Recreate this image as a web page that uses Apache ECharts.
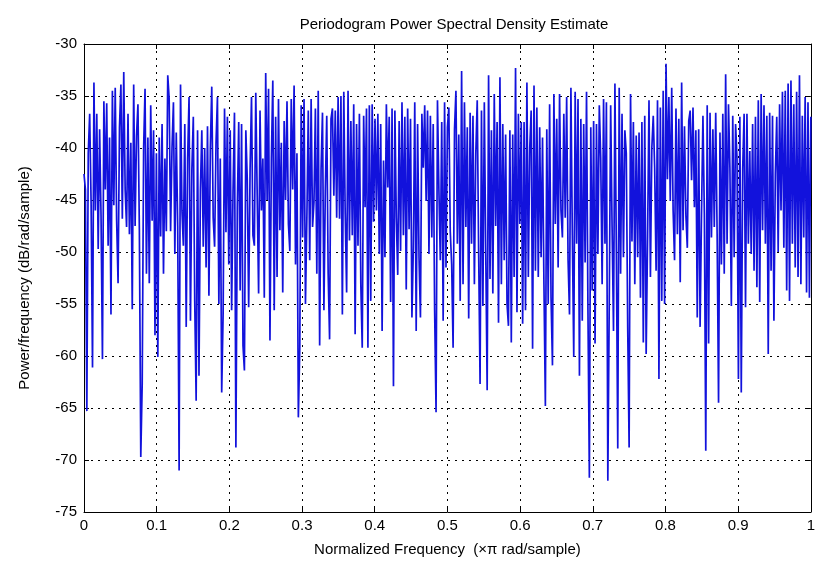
<!DOCTYPE html>
<html>
<head>
<meta charset="utf-8">
<script src="https://cdn.jsdelivr.net/npm/echarts@6/dist/echarts.min.js"></script>
<style>html,body{margin:0;padding:0;background:#fff;}#c{width:818px;height:563px;}</style>
</head>
<body>
<div id="c"></div>
<script>
// PSD values (dB/rad/sample), 513 evenly spaced bins from 0 to 1 (xπ rad/sample), read in six segments
const psdA = [-42.5,-44.0,-65.3,-40.5,-36.7,-45.2,-61.1,-33.7,-46.0,-36.7,
-49.7,-38.2,-46.5,-60.3,-35.5,-44.0,-35.7,-49.4,-39.0,-56.0,
-34.5,-45.5,-34.2,-47.0,-53.0,-38.0,-33.9,-46.8,-32.7,-44.0,
-47.6,-36.7,-48.3,-39.5,-55.5,-33.9,-47.5,-38.8,-35.8,-47.8,
-69.7,-62.7,-40.0,-34.3,-52.1,-39.0,-53.0,-35.9,-47.0,-38.3,
-58.0,-40.5,-60.1,-39.0,-48.5,-37.7,-52.1,-41.0,-48.0,-33.0,
-35.3,-48.0,-40.0,-35.6,-50.2,-38.5,-47.5,-71.0,-33.9,-46.0,
-49.4,-37.7,-57.2,-41.0,-35.1,-56.6,-42.0,-37.0,-54.7,-64.3,
-38.3,-61.9,-44.0,-38.3,-49.5,-40.0];
const psdB = [-51.5,-37.9,-54.2,-40.0,-34.1,-46.7,-49.5,-39.5,-35.1,-55.0,
-41.0,-63.5,-56.0,-36.2,-48.1,-37.0,-51.2,-38.3,-55.6,-44.0,
-36.6,-68.8,-45.7,-37.5,-53.7,-37.7,-59.0,-61.4,-38.3,-43.0,
-55.3,-42.0,-35.1,-48.4,-49.4,-34.7,-44.5,-54.0,-36.4,-46.0,
-41.0,-54.4,-32.8,-45.0,-34.3,-58.5,-41.0,-33.5,-55.6,-37.0,
-52.4,-35.3,-47.9,-39.5,-53.9,-37.4,-45.0,-35.5,-47.3,-49.9,
-35.3,-44.0,-34.0,-51.2,-40.5,-65.9,-59.2,-35.9,-48.6,-35.3,
-55.0,-46.7,-36.4,-50.8,-35.3,-47.6,-45.2,-36.2,-52.1,-34.5,
-59.0,-42.0,-36.6,-55.6,-44.0];
const psdC = [-36.9,-52.1,-58.4,-37.2,-36.2,-44.6,-36.4,-46.7,-35.1,-46.8,
-35.0,-56.0,-34.6,-46.3,-53.9,-34.5,-48.9,-37.4,-48.4,-35.8,
-57.9,-37.7,-49.4,-36.7,-53.1,-59.2,-36.9,-45.7,-36.2,-59.2,
-35.9,-54.7,-35.8,-47.1,-37.2,-46.0,-36.7,-50.2,-37.7,-57.6,
-41.2,-50.5,-35.8,-43.8,-37.0,-54.8,-36.2,-62.9,-36.4,-46.7,
-52.2,-37.4,-49.9,-35.6,-48.4,-37.0,-53.6,-36.2,-47.8,-37.2,
-56.3,-49.6,-35.6,-57.6,-37.7,-50.5,-56.3,-36.7,-41.9,-35.9,
-45.1,-36.4,-50.2,-36.9,-48.6,-37.7,-55.6,-65.4,-35.4,-44.0,
-50.8,-37.5,-56.6,-35.6,-51.5,-38.0];
const psdD = [-36.1,-48.0,-51.2,-59.2,-38.2,-34.5,-49.2,-38.7,-54.7,-32.6,
-53.1,-35.6,-47.6,-38.0,-56.4,-36.6,-49.2,-36.9,-53.1,-40.5,
-35.4,-49.9,-62.7,-36.4,-55.2,-35.6,-49.9,-63.3,-33.0,-52.6,
-38.3,-54.0,-34.8,-47.5,-37.5,-56.8,-33.2,-53.1,-37.7,-50.8,
-38.7,-55.0,-57.1,-38.3,-58.7,-38.7,-52.4,-32.3,-55.8,-36.7,
-47.3,-37.5,-56.9,-37.5,-55.6,-33.7,-52.4,-40.0,-36.4,-59.3,
-34.0,-51.8,-36.1,-52.4,-38.0,-50.5,-39.0,-53.1,-64.8,-38.2,
-55.0,-35.8,-54.4,-60.9,-34.8,-47.3,-37.2,-51.5,-34.8,-46.0,
-48.6,-36.7,-46.7,-35.1,-50.8];
const psdE = [-56.0,-34.2,-48.4,-60.1,-34.6,-49.2,-35.3,-61.9,-37.2,-56.6,
-37.7,-51.0,-34.6,-55.6,-71.7,-38.0,-53.7,-37.4,-58.8,-37.7,
-50.2,-35.9,-41.0,-53.1,-35.3,-49.2,-35.6,-72.0,-55.0,-35.9,
-47.6,-57.6,-33.8,-49.9,-68.9,-34.2,-52.1,-36.7,-50.5,-38.3,
-40.5,-57.2,-68.8,-34.8,-49.0,-37.5,-53.1,-38.8,-50.5,-38.5,
-54.4,-37.5,-58.7,-36.9,-59.8,-48.6,-35.4,-52.4,-40.0,-36.9,
-42.0,-51.8,-35.4,-62.2,-36.1,-54.7,-34.5,-55.0,-31.9,-43.0,
-35.1,-45.1,-34.2,-46.0,-50.8,-36.2,-48.3,-37.2,-52.9,-33.7,
-47.9,-37.9,-46.5,-49.6,-37.4];
const psdF = [-36.4,-43.1,-36.1,-45.7,-38.3,-56.3,-38.2,-57.2,-46.3,-36.9,
-46.3,-69.1,-35.9,-58.8,-36.6,-48.6,-38.2,-47.6,-36.6,-48.3,
-64.5,-38.5,-51.2,-36.7,-52.1,-32.9,-49.2,-35.8,-42.0,-55.2,
-36.9,-50.5,-37.7,-41.0,-62.2,-37.0,-63.5,-42.0,-36.7,-55.3,
-36.7,-49.2,-40.3,-50.2,-37.7,-51.8,-37.0,-53.4,-35.4,-54.8,
-34.8,-47.9,-35.9,-49.2,-36.9,-59.8,-36.6,-51.8,-36.9,-56.6,
-42.5,-37.0,-50.0,-35.8,-46.0,-34.6,-49.6,-34.5,-53.7,-33.8,
-54.7,-33.5,-49.2,-35.8,-51.5,-34.6,-52.4,-33.0,-53.1,-36.9,
-48.6,-35.1,-53.9,-35.6,-54.4,-37.0];

const xTicks = [0,0.1,0.2,0.3,0.4,0.5,0.6,0.7,0.8,0.9,1];
const yTicks = [-75,-70,-65,-60,-55,-50,-45,-40,-35,-30];

const psd = [].concat(psdA, psdB, psdC, psdD, psdE, psdF);
const N = psd.length;
const data = psd.map((v, i) => [i / (N - 1), v]);

const FONT = 'Liberation Sans';
const txt = {color: '#000', fontFamily: FONT, fontSize: 15};
const grid = {type: [2, 5], color: '#000', width: 1};

const chart = echarts.init(document.getElementById('c'), null, {renderer: 'canvas'});
chart.setOption({
  animation: false,
  backgroundColor: '#fff',
  title: {
    text: 'Periodogram Power Spectral Density Estimate',
    left: 449, top: 12, textAlign: 'center',
    textStyle: {color: '#000', fontFamily: FONT, fontSize: 15, fontWeight: 'normal'}
  },
  grid: {left: 84, right: 3, top: 44, bottom: 51, show: false},
  xAxis: [{
    type: 'value', min: xTicks[0], max: xTicks[xTicks.length - 1], interval: 0.1,
    position: 'bottom',
    name: 'Normalized Frequency  (\u00d7\u03c0 rad/sample)',
    nameLocation: 'middle', nameGap: 30,
    nameTextStyle: txt,
    axisLine: {onZero: false, lineStyle: {color: '#000', width: 1}},
    axisTick: {inside: true, length: 5, lineStyle: {color: '#000'}},
    axisLabel: Object.assign({margin: 6, formatter: v => String(Math.round(v * 10) / 10)}, txt),
    splitLine: {show: true, lineStyle: grid}
  }, {
    type: 'value', min: 0, max: 1, interval: 0.1, position: 'top',
    axisLine: {onZero: false, lineStyle: {color: '#000', width: 1}},
    axisTick: {inside: true, length: 5, lineStyle: {color: '#000'}},
    axisLabel: {show: false}, splitLine: {show: false}
  }],
  yAxis: [{
    type: 'value', min: yTicks[0], max: yTicks[yTicks.length - 1], interval: 5,
    position: 'left',
    name: 'Power/frequency (dB/rad/sample)',
    nameLocation: 'middle', nameGap: 52, nameRotate: 90,
    nameTextStyle: txt,
    axisLine: {onZero: false, lineStyle: {color: '#000', width: 1}},
    axisTick: {inside: true, length: 5, lineStyle: {color: '#000'}},
    axisLabel: Object.assign({margin: 7}, txt),
    splitLine: {show: true, lineStyle: grid}
  }, {
    type: 'value', min: -75, max: -30, interval: 5, position: 'right',
    axisLine: {onZero: false, lineStyle: {color: '#000', width: 1}},
    axisTick: {inside: true, length: 5, lineStyle: {color: '#000'}},
    axisLabel: {show: false}, splitLine: {show: false}
  }],
  series: [{
    type: 'line', data: data, xAxisIndex: 0, yAxisIndex: 0,
    showSymbol: false, symbol: 'none',
    lineStyle: {color: '#1212dc', width: 1.7},
    z: 3
  }]
});
</script>
</body>
</html>
